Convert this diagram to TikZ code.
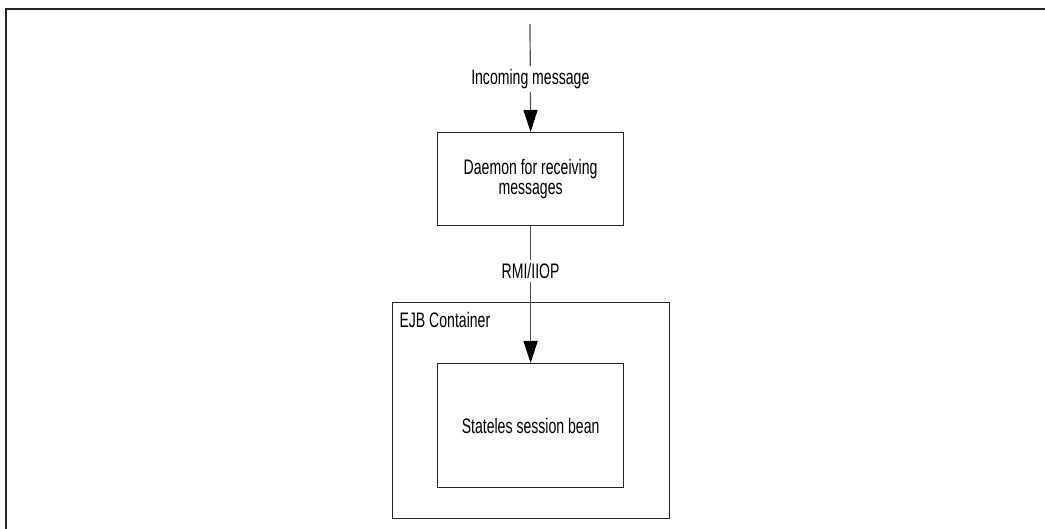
\documentclass[tikz,border=0pt]{standalone}
\usepackage{fontspec}
\setmainfont{Liberation Sans}[FakeStretch=0.67]
\usetikzlibrary{arrows.meta}
\begin{document}
\begin{tikzpicture}[x=1pt,y=-1pt,
  box/.style={draw=black!85, line width=1.2pt, inner sep=0pt, align=center},
  lbl/.style={font=\fontsize{21}{23}\selectfont, text=black},
  flow/.style={draw=black!70, line width=1.2pt,
    -{Triangle[length=22pt,width=14pt,color=black]}},
  tag/.style={lbl, fill=white, inner sep=3pt}]
  \useasboundingbox (0,0) rectangle (1045,529);
  \clip (0,0) rectangle (1045,529);
  % outer frame
  \draw[line width=2pt, black!85] (6,540) -- (6,9) -- (1060,9);
  % boxes
  \node[box, minimum width=186pt, minimum height=93pt, anchor=north west,
        lbl] (daemon) at (437,132) {Daemon for receiving\\[-3pt]messages};
  \node[box, minimum width=277pt, minimum height=216pt, anchor=north west]
        (container) at (392,302) {};
  \node[lbl, anchor=west] (ctitle) at (396,320) {EJB Container};
  \node[box, minimum width=186pt, minimum height=124pt, anchor=north west,
        lbl] (bean) at (437,363) {Stateles session bean};
  % connectors
  \coordinate (src) at (530,24);
  \draw[flow] (src) -- node[tag, pos=0.51] {Incoming message} (daemon.north);
  \draw[flow] (daemon.south) -- node[tag, pos=0.326] {RMI/IIOP} (bean.north);
\end{tikzpicture}
\end{document}
